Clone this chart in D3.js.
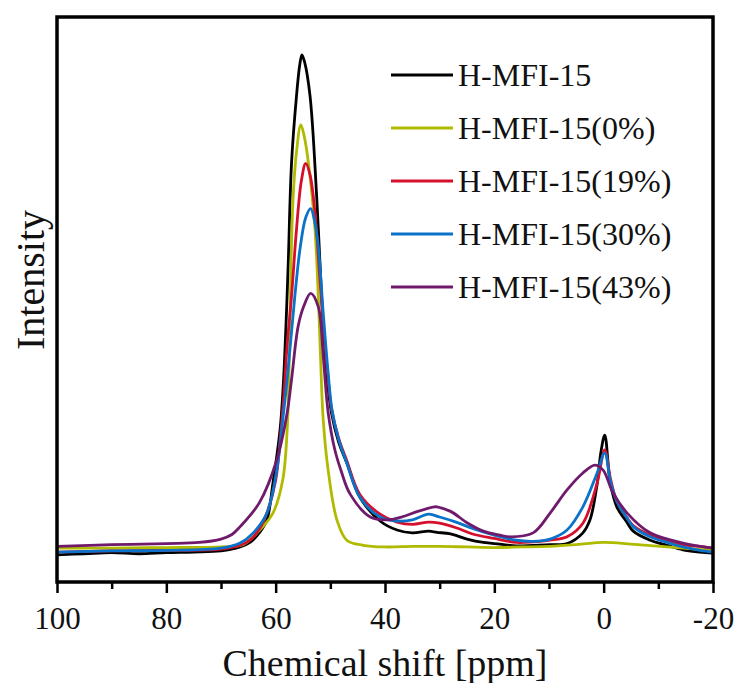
<!DOCTYPE html>
<html>
<head>
<meta charset="utf-8">
<script src="https://cdn.jsdelivr.net/npm/d3@7"></script>
<style>
  body { margin: 0; background: #fff; }
  svg text { font-family: 'Liberation Serif', Tinos, 'Times New Roman', Times, 'DejaVu Serif', 'Noto Serif', serif; fill: #111; }
</style>
</head>
<body>
<script>
// chemical shift ticks (ppm)
const majorTicks = [100, 80, 60, 40, 20, 0, -20]
const minorTicks = [90, 70, 50, 30, 10, -10]

const seriesNames = ['H-MFI-15', 'H-MFI-15(0%)', 'H-MFI-15(19%)', 'H-MFI-15(30%)', 'H-MFI-15(43%)']
const seriesColors = ['#000000', '#afba00', '#d6102c', '#0a72c8', '#701a6c']

// [ppm, intensity]
const hmfi15 = [
  [100, 4.8], [95, 5.0], [90, 5.2], [85, 5.0], [80, 5.2], [75, 5.3], [70, 5.5], [66.5, 6.2],
  [64.7, 7.0], [62.9, 8.8], [61.6, 11.0], [60.5, 17.5], [59.2, 26.9], [58.6, 35.0], [58.1, 45.8],
  [57.7, 56.4], [57.1, 74.1], [56.2, 85.9], [55.6, 91.5], [55.2, 93.3], [54.7, 92.0], [53.7, 85.9],
  [52.5, 68.2], [51.6, 50.5], [50.7, 37.0], [49.8, 30.0], [48.5, 24.8], [47.0, 21.1], [44.6, 15.0],
  [40.9, 10.8], [37.8, 9.2], [35, 8.7], [32, 9.0], [30.5, 8.8], [28, 8.5], [25, 7.6], [22, 7.0],
  [19, 6.7], [16, 6.4], [12.9, 6.5], [9.8, 6.6], [6.7, 6.8], [3.8, 8.7], [2.5, 11.0], [1.2, 17.3],
  [0.5, 23.0], [-0.2, 26.0], [-1.2, 17.6], [-2.4, 13.3], [-4.3, 10.5], [-5.4, 9.0], [-8.5, 7.4],
  [-11.6, 6.5], [-14.5, 5.7], [-17.6, 5.3], [-20, 5.1]
]
const hmfi15_0 = [
  [100, 6.0], [90, 6.0], [80, 6.1], [70, 6.2], [66, 6.6], [63.5, 8.6], [60.5, 12.2], [58.7, 18.1],
  [57.9, 26.9], [57.5, 40.0], [57.2, 56.0], [56.8, 68.2], [56.2, 76.0], [55.4, 80.9], [54.8, 79.0],
  [54.0, 74.1], [52.8, 62.3], [52.2, 50.5], [51.8, 40.0], [51.3, 28.7], [50.4, 19.8], [48.8, 11.0],
  [47.0, 7.4], [44.0, 6.5], [40, 6.2], [35, 6.3], [30, 6.3], [25, 6.2], [20, 6.1], [15, 6.2],
  [10, 6.3], [5, 6.6], [0, 7.0], [-5, 6.7], [-11.6, 6.2], [-20, 5.6]
]
const hmfi15_19 = [
  [100, 5.3], [90, 5.5], [80, 5.6], [70, 5.8], [66.5, 6.5], [64.7, 7.4], [62.9, 9.5], [61.5, 12.5],
  [60.0, 18.0], [59.2, 25.0], [58.5, 33.0], [57.9, 42.0], [57.1, 50.5], [56.2, 62.3], [55.3, 71.0],
  [54.5, 74.1], [53.7, 72.0], [52.8, 65.3], [51.9, 53.5], [51.3, 46.0], [50.5, 37.0], [49.8, 30.8],
  [48.5, 25.5], [47.0, 21.5], [44.6, 15.5], [40.9, 12.0], [37.8, 10.6], [35, 10.2], [32, 10.6],
  [30, 10.4], [27, 9.6], [24, 8.5], [20, 7.7], [16, 7.0], [12.9, 7.1], [9.8, 7.4], [6.7, 8.0],
  [3.8, 10.4], [1.2, 17.5], [-0.2, 23.4], [-1.2, 18.5], [-2.4, 14.3], [-4.3, 11.3], [-5.4, 10.0],
  [-8.5, 8.3], [-11.6, 7.4], [-14.5, 6.6], [-17.6, 6.3], [-20, 6.0]
]
const hmfi15_30 = [
  [100, 5.3], [90, 5.5], [80, 5.6], [70, 6.0], [66.5, 6.9], [64.1, 8.7], [61.6, 12.2], [59.8, 19.8],
  [58.7, 28.7], [57.9, 35.8], [56.5, 50.5], [55.5, 59.3], [54.5, 64.5], [53.6, 66.1], [52.9, 64.0],
  [52.2, 59.3], [51.3, 47.6], [50.4, 37.0], [49.7, 30.5], [48.5, 25.3], [47.0, 21.1], [44.6, 15.0],
  [40.9, 11.5], [37.8, 10.8], [35, 11.0], [32, 12.0], [30, 11.5], [27, 10.6], [24, 9.5], [20, 8.3],
  [16, 7.4], [12.9, 7.2], [9.8, 7.6], [6.7, 9.2], [3.8, 13.3], [1.2, 19.3], [-0.2, 22.8],
  [-1.2, 18.0], [-2.4, 14.3], [-4.3, 11.3], [-5.4, 9.8], [-8.5, 8.0], [-11.6, 7.0], [-14.5, 6.2],
  [-17.6, 5.6], [-20, 5.3]
]
const hmfi15_43 = [
  [100, 6.3], [90, 6.6], [80, 6.8], [74, 7.0], [70, 7.6], [68, 8.4], [66.5, 9.8], [63, 14.0],
  [59.8, 21.6], [57.9, 29.9], [57.1, 35.8], [55.9, 45.2], [54.9, 48.7], [53.6, 51.1], [52.2, 48.7],
  [51.3, 40.0], [50.4, 30.0], [49.2, 23.5], [48.0, 19.6], [46.4, 15.6], [42.7, 11.5], [39.6, 11.0],
  [37, 11.5], [34, 12.5], [31, 13.3], [30.5, 13.3], [28, 12.5], [25, 10.5], [22, 9.0], [19, 8.3],
  [17.1, 8.0], [12.9, 8.7], [9.8, 12.2], [6.7, 16.3], [3.8, 19.3], [1.6, 20.7], [0.1, 19.8],
  [-1.7, 15.8], [-4.3, 12.2], [-8.5, 8.7], [-14.5, 6.9], [-20, 6.0]
]
const seriesData = [hmfi15, hmfi15_0, hmfi15_19, hmfi15_30, hmfi15_43]

var config = {
  width: 736,
  height: 683,
  left: 57,
  right: 713,
  top: 17,
  bottom: 582,
}

var svg = d3.select('body').append('svg')
  .attr('width', config.width)
  .attr('height', config.height)

var x = d3.scaleLinear().domain([100, -20]).range([config.left, config.right])
var y = d3.scaleLinear().domain([0, 100]).range([config.bottom, config.top])

// curves
var line = d3.line()
  .x(d => x(d[0]))
  .y(d => y(d[1]))
  .curve(d3.curveCatmullRom.alpha(0.5))

seriesData.forEach((s, i) => {
  svg.append('path')
    .datum(s)
    .attr('d', line)
    .attr('fill', 'none')
    .attr('stroke', seriesColors[i])
    .attr('stroke-width', 2.8)
    .attr('stroke-linejoin', 'round')
})

// frame
svg.append('rect')
  .attr('x', config.left)
  .attr('y', config.top)
  .attr('width', config.right - config.left)
  .attr('height', config.bottom - config.top)
  .attr('fill', 'none')
  .attr('stroke', '#000')
  .attr('stroke-width', 3.5)

// bottom axis, major + minor
var major = svg.append('g')
  .attr('transform', `translate(0,${config.bottom})`)
  .call(d3.axisBottom(x).tickValues(majorTicks).tickSize(11).tickPadding(14).tickFormat(d => String(d)))
major.attr('font-family', null)
major.select('.domain').remove()
major.selectAll('line').attr('stroke', '#000').attr('stroke-width', 2.5)
major.selectAll('text')
  .style('font-size', '31px')
  .attr('fill', '#111')

var minor = svg.append('g')
  .attr('transform', `translate(0,${config.bottom})`)
  .call(d3.axisBottom(x).tickValues(minorTicks).tickSize(7).tickFormat(''))
minor.select('.domain').remove()
minor.selectAll('line').attr('stroke', '#000').attr('stroke-width', 2.5)

// axis titles
svg.append('text')
  .attr('x', (config.left + config.right) / 2)
  .attr('y', 676)
  .attr('text-anchor', 'middle')
  .style('font-size', '38px')
  .text('Chemical shift [ppm]')

svg.append('text')
  .attr('transform', 'translate(44,280) rotate(-90)')
  .attr('text-anchor', 'middle')
  .style('font-size', '40px')
  .text('Intensity')

// legend
var legend = svg.append('g')
seriesNames.forEach((name, i) => {
  let cy = 75 + i * 53
  legend.append('line')
    .attr('x1', 391).attr('x2', 453)
    .attr('y1', cy).attr('y2', cy)
    .attr('stroke', seriesColors[i])
    .attr('stroke-width', 2.8)
  legend.append('text')
    .attr('x', 458)
    .attr('y', cy + 11)
    .style('font-size', '32px')
    .text(name)
})
</script>
</body>
</html>
